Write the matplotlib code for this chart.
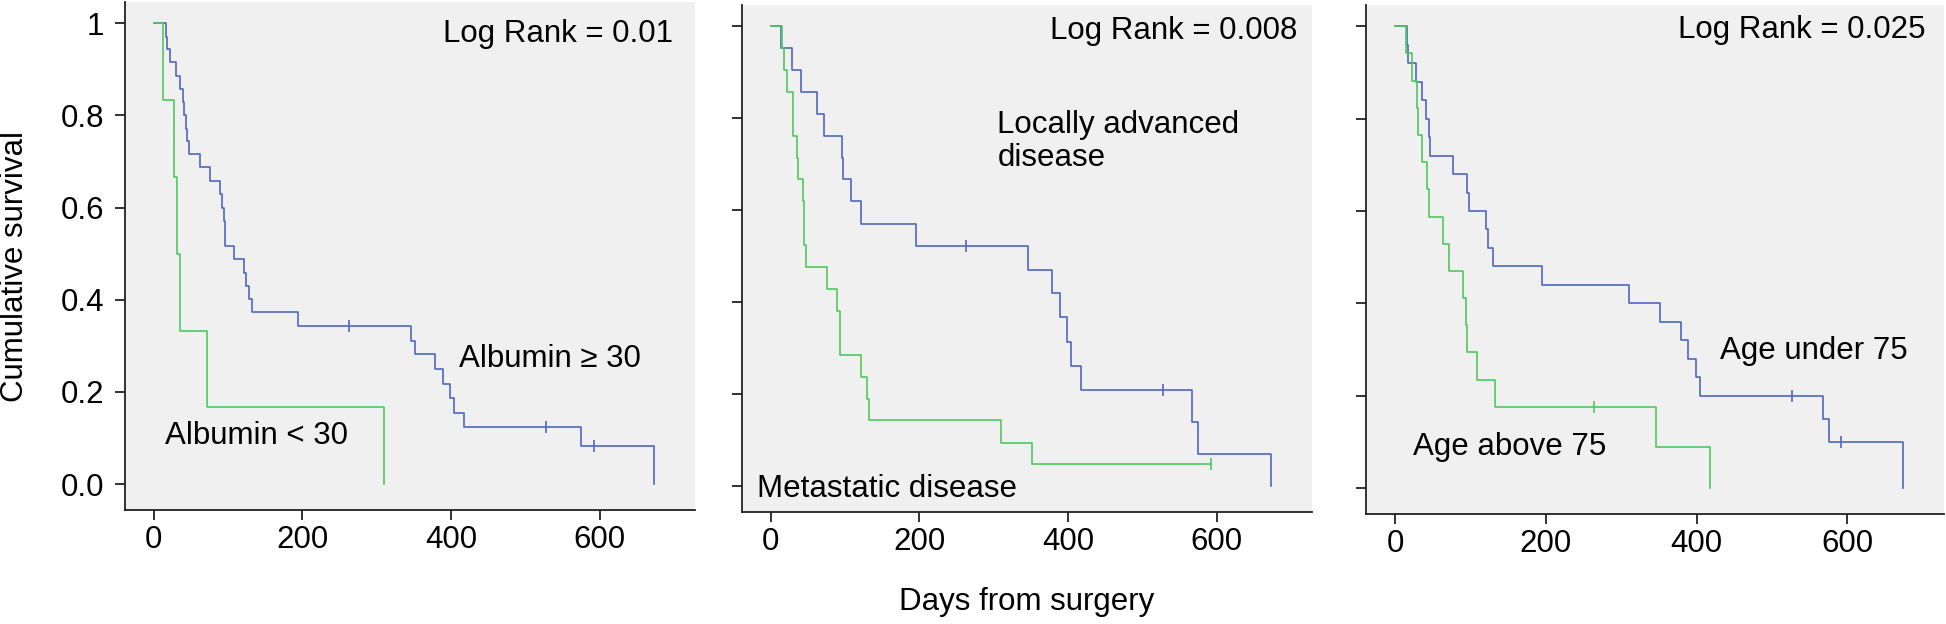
import matplotlib
matplotlib.use("Agg")
import matplotlib.pyplot as plt
import numpy as np

plt.rcParams['font.family'] = ['Liberation Sans', 'DejaVu Sans']

# Kaplan-Meier step points (days, cumulative survival)
alb_hi_t = [0, 16, 18, 21.5, 29.7, 35.4, 39.5, 41.5, 43.6, 44.6, 47.7, 62, 75.4, 89.2, 92.3, 94.4,
            95.9, 96.4, 108, 121, 123.6, 128, 131.8, 194, 346, 351, 379, 389, 398, 404, 418, 575, 673]
alb_hi_s = [1, 0.971, 0.944, 0.916, 0.886, 0.858, 0.829, 0.8, 0.771, 0.745, 0.716, 0.687, 0.658, 0.629,
            0.6, 0.572, 0.545, 0.516, 0.488, 0.459, 0.43, 0.401, 0.374, 0.344, 0.31, 0.282, 0.249, 0.218,
            0.188, 0.155, 0.125, 0.083, 0]
alb_hi_cens = [263, 527, 592]
alb_lo_t = [0, 13, 28, 31, 35, 72, 310]
alb_lo_s = [1, 0.833, 0.667, 0.5, 0.333, 0.167, 0]
alb_lo_cens = []

loc_t = [0, 14, 28.4, 40.7, 62.7, 72.3, 95.4, 97, 108.7, 121, 195, 345.5, 378.7, 389.5, 399, 404.5,
         418, 567, 575, 673]
loc_s = [1, 0.952, 0.905, 0.857, 0.81, 0.762, 0.714, 0.667, 0.619, 0.571, 0.523, 0.471, 0.419, 0.367,
         0.314, 0.262, 0.209, 0.139, 0.07, 0]
loc_cens = [263, 527]
met_t = [0, 15, 17.7, 22, 29.5, 30.5, 35.4, 36.4, 42.9, 44.5, 45.5, 47.7, 75.5, 89, 92.7, 93.7, 122,
         129, 132, 310, 351, 592]
met_s = [1, 0.952, 0.905, 0.857, 0.81, 0.762, 0.714, 0.667, 0.619, 0.571, 0.524, 0.476, 0.429, 0.381,
         0.333, 0.286, 0.238, 0.19, 0.143, 0.095, 0.048, 0.048]
met_cens = [592]

young_t = [0, 16, 17.7, 28.4, 36, 41, 44.5, 47, 76.6, 95.4, 97.5, 121, 123, 130, 195.5, 310, 351, 379,
           389, 399, 404, 567, 575, 673]
young_s = [1, 0.96, 0.92, 0.88, 0.84, 0.8, 0.76, 0.72, 0.68, 0.64, 0.6, 0.56, 0.52, 0.48, 0.44, 0.4,
           0.36, 0.32, 0.28, 0.24, 0.2, 0.15, 0.1, 0]
young_cens = [527, 592]
old_t = [0, 14, 23, 29.5, 30.5, 36, 43, 45.5, 63, 72, 89.5, 94, 95, 109, 132, 346, 418]
old_s = [1, 0.941, 0.882, 0.824, 0.765, 0.706, 0.647, 0.588, 0.529, 0.471, 0.412, 0.353, 0.294, 0.235,
         0.176, 0.088, 0]
old_cens = [264]

log_rank = ["Log Rank = 0.01", "Log Rank = 0.008", "Log Rank = 0.025"]

blue = '#4F67C2'
green = '#4DC95F'
fs = 22.5

fig = plt.figure(figsize=(19.46, 6.24), dpi=100)
W, H = 1946.0, 624.0
# axes boxes in pixels: left, right, top, bottom
boxes = [(125, 695, 2, 510), (742, 1312, 5, 512), (1366, 1944, 5, 514)]
# where the "Log Rank" text sits (right edge in days, baseline in survival)
lr_pos = [(699, 0.96), (708, 0.973), (703, 0.975)]

panels = [
    ((alb_hi_t, alb_hi_s, alb_hi_cens), (alb_lo_t, alb_lo_s, alb_lo_cens)),
    ((loc_t, loc_s, loc_cens), (met_t, met_s, met_cens)),
    ((young_t, young_s, young_cens), (old_t, old_s, old_cens)),
]


def draw_curve(ax, t, s, cens, color):
    t = np.array(t)
    s = np.array(s)
    ax.step(t, s, where='post', color=color, lw=1.2)
    if len(cens):
        idx = np.searchsorted(t, cens, side='right') - 1
        ax.plot(cens, s[idx], ls='none', marker='|', ms=9, mew=1.2, color=color)


axes = []
for i, (l, r, t, b) in enumerate(boxes):
    ax = fig.add_axes([l / W, 1 - b / H, (r - l) / W, (b - t) / H])
    ax.set_facecolor('#F0F0F0')
    hi, lo = panels[i]
    draw_curve(ax, *hi, blue)
    draw_curve(ax, *lo, green)
    ax.set_xlim(-38.5, 728)
    ax.set_ylim(-0.056, 1.046)
    ax.set_xticks([0, 200, 400, 600])
    ax.set_yticks([0, 0.2, 0.4, 0.6, 0.8, 1])
    if i == 0:
        ax.set_yticklabels(['0.0', '0.2', '0.4', '0.6', '0.8', '1'])
    else:
        ax.set_yticklabels([])
    for side in ['top', 'right']:
        ax.spines[side].set_visible(False)
    for side in ['left', 'bottom']:
        ax.spines[side].set_linewidth(1.3)
        ax.spines[side].set_color('#222222')
    ax.tick_params(axis='both', length=7, width=1.3, color='#222222', labelsize=fs)
    ax.tick_params(axis='x', pad=4)
    ax.tick_params(axis='y', pad=8)
    ax.text(lr_pos[i][0], lr_pos[i][1], log_rank[i], ha='right', va='baseline', fontsize=fs)
    axes.append(ax)

# group labels
axes[0].text(411, 0.255, "Albumin \u2265 30", fontsize=fs, va='baseline')
axes[0].text(15, 0.087, "Albumin < 30", fontsize=fs, va='baseline')
axes[1].text(305, 0.696, "Locally advanced\ndisease", fontsize=fs, va='baseline', linespacing=1.15)
axes[1].text(-19, -0.023, "Metastatic disease", fontsize=fs, va='baseline')
axes[2].text(431, 0.279, "Age under 75", fontsize=fs, va='baseline')
axes[2].text(24, 0.0715, "Age above 75", fontsize=fs, va='baseline')

fig.text(1027 / W, 1 - 602 / H, "Days from surgery", ha='center', va='center', fontsize=fs)
fig.text(15 / W, 1 - 267 / H, "Cumulative survival", ha='center', va='center', rotation=90, fontsize=fs)

fig.savefig("out.png", dpi=100, facecolor='white')
